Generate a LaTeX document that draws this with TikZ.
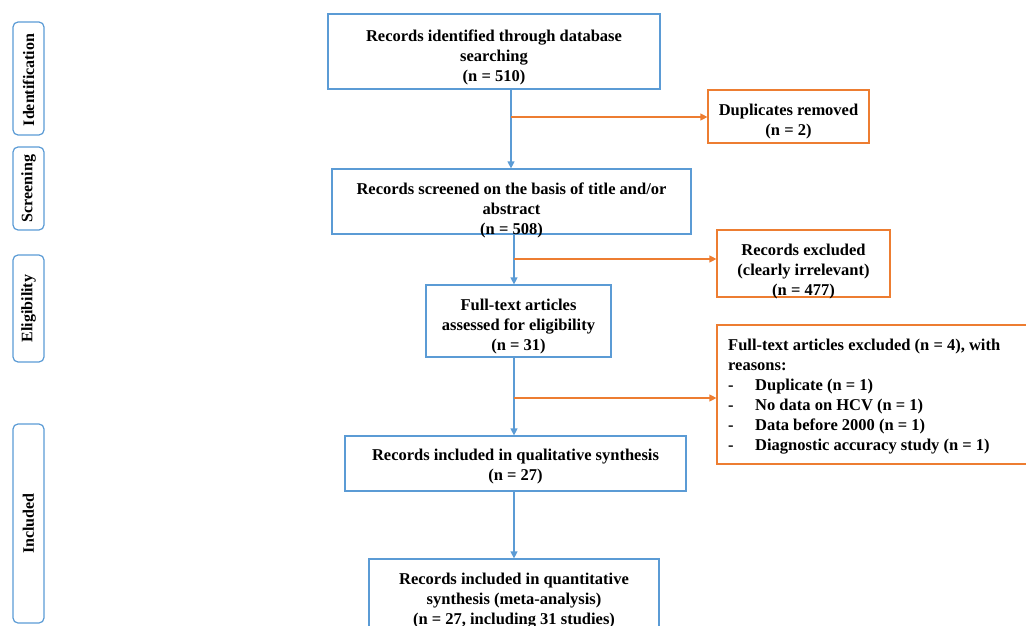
\documentclass[tikz,border=0pt]{standalone}
\usepackage{fontspec}
\setmainfont{Liberation Serif}
\usetikzlibrary{arrows.meta}
\definecolor{bl}{HTML}{5B9BD5}
\definecolor{orr}{HTML}{ED7D31}
\begin{document}
\begin{tikzpicture}[x=1pt,y=-1pt,
  box/.style={draw=bl, line width=1.2pt, inner sep=0pt},
  obox/.style={draw=orr, line width=1.2pt, inner sep=0pt},
  txt/.style={font=\fontsize{16.5}{20}\selectfont\bfseries, align=center, inner sep=0pt},
  ltxt/.style={font=\fontsize{16.5}{20}\selectfont\bfseries, align=left, inner sep=0pt, anchor=north west},
  stage/.style={draw=bl, line width=1.2pt, rounded corners=5pt, inner sep=0pt},
  stxt/.style={font=\fontsize{16}{18}\selectfont\bfseries, rotate=90, inner sep=0pt},
  barrow/.style={draw=bl, line width=1.2pt, -{Triangle[width=7pt,length=7pt]}},
  oarrow/.style={draw=orr, line width=1.2pt, -{Triangle[width=7pt,length=7pt]}}
]
\useasboundingbox (0,0) rectangle (1026,626);
\clip (0,0) rectangle (1026,626);
% stage labels
\node[stage, minimum width=31, minimum height=113] (s1) at (28.5,78.5) {};
\node[stxt] (s1t) at (28.5,80) {Identification};
\node[stage, minimum width=31, minimum height=83] (s2) at (28.5,188.5) {};
\node[stxt] (s2t) at (28.5,188.5) {Screening};
\node[stage, minimum width=31, minimum height=107] (s3) at (28.5,308.5) {};
\node[stxt] (s3t) at (28.5,308.5) {Eligibility};
\node[stage, minimum width=31, minimum height=199] (s4) at (28.5,523.5) {};
\node[stxt] (s4t) at (28.5,523.5) {Included};
% main boxes
\node[box, minimum width=332, minimum height=75] (n1) at (494,51.5) {};
\node[txt] (t1) at (494,57) {Records identified through database\\searching\\(n = 510)};
\node[obox, minimum width=161, minimum height=53] (n2) at (788.5,116.5) {};
\node[txt] (t2) at (788.5,122) {Duplicates removed\\(n = 2)};
\node[box, minimum width=359, minimum height=65] (n3) at (511.5,201.5) {};
\node[txt] (t3) at (511.5,210) {Records screened on the basis of title and/or\\abstract\\(n = 508)};
\node[obox, minimum width=173, minimum height=67] (n4) at (803.5,263.5) {};
\node[txt] (t4) at (803.5,272) {Records excluded\\(clearly irrelevant)\\(n = 477)};
\node[box, minimum width=185, minimum height=72] (n5) at (518.5,321) {};
\node[txt] (t5) at (518.5,327) {Full-text articles\\assessed for eligibility\\(n = 31)};
\node[obox, minimum width=320, minimum height=139] (n6) at (877,394.5) {};
\node[ltxt] (t6) at (728,339) {Full-text articles excluded (n = 4), with\\reasons:\\\makebox[27pt][l]{-}Duplicate (n = 1)\\\makebox[27pt][l]{-}No data on HCV (n = 1)\\\makebox[27pt][l]{-}Data before 2000 (n = 1)\\\makebox[27pt][l]{-}Diagnostic accuracy study (n = 1)};
\node[box, minimum width=341, minimum height=55] (n7) at (515.5,463.5) {};
\node[txt] (t7) at (515.5,467) {Records included in qualitative synthesis\\(n = 27)};
\node[box, minimum width=290, minimum height=90] (n8) at (514,604) {};
\node[txt] (t8) at (514,601) {Records included in quantitative\\synthesis (meta-analysis)\\(n = 27, including 31 studies)};
% connectors
\coordinate (a1) at (n1.south -| 511,0);
\coordinate (b1) at (511,117);
\draw[barrow] (a1) -- (a1 |- n3.north);
\draw[oarrow] (b1) -- (b1 -| n2.west);
\coordinate (a2) at (n3.south -| 514,0);
\coordinate (b2) at (514,259);
\draw[barrow] (a2) -- (a2 |- n5.north);
\draw[oarrow] (b2) -- (b2 -| n4.west);
\coordinate (a3) at (n5.south -| 514,0);
\coordinate (b3) at (514,398);
\draw[barrow] (a3) -- (a3 |- n7.north);
\draw[oarrow] (b3) -- (b3 -| n6.west);
\coordinate (a4) at (n7.south -| 514,0);
\draw[barrow] (a4) -- (a4 |- n8.north);
\end{tikzpicture}
\end{document}
